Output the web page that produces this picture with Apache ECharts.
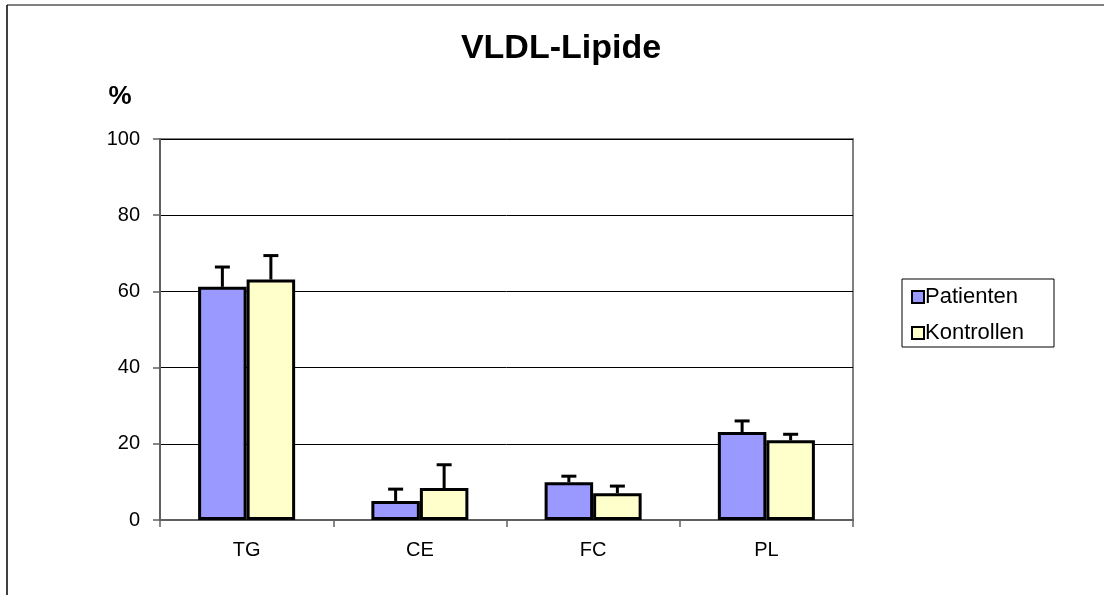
<!DOCTYPE html>
<html>
<head>
<meta charset="utf-8">
<script src="https://cdn.jsdelivr.net/npm/echarts@6/dist/echarts.min.js"></script>
<style>
  html, body { margin: 0; padding: 0; background: #fff; }
  #chart { width: 1104px; height: 595px; }
</style>
</head>
<body>
<div id="chart"></div>
<script>
// Werte
const categories = ['TG', 'CE', 'FC', 'PL'];
const patienten = [61.2, 5.0, 9.9, 23.1];
const patientenErr = [5.2, 3.1, 1.6, 2.9];
const kontrollen = [63.1, 8.4, 7.0, 20.9];
const kontrollenErr = [6.3, 6.1, 1.9, 1.6];
const yTicks = [0, 20, 40, 60, 80, 100];

const FONT = 'Liberation Sans';
const BAR_RATIO = 0.28;

const chart = echarts.init(document.getElementById('chart'));

// obere Fehlerbalken, offset = -1 links, +1 rechts
function errorRenderer(offset) {
	return function (params, api) {
		const cat = api.value(0);
		const top = api.coord([cat, api.value(1) + api.value(2)]);
		const base = api.coord([cat, api.value(1)]);
		const band = api.size([1, 0])[0];
		const x = base[0] + offset * band * BAR_RATIO / 2;
		const cap = 7.5;
		return {
			type: 'group',
			children: [
				{ type: 'line', shape: { x1: x, y1: base[1], x2: x, y2: top[1] }, style: { stroke: '#000', lineWidth: 3 } },
				{ type: 'line', shape: { x1: x - cap, y1: top[1], x2: x + cap, y2: top[1] }, style: { stroke: '#000', lineWidth: 3 } }
			]
		};
	};
}

chart.setOption({
	animation: false,
	textStyle: { fontFamily: FONT },
	title: {
		text: 'VLDL-Lipide',
		left: 556,
		top: 27,
		textAlign: 'center',
		textStyle: { fontFamily: FONT, fontWeight: 'bold', fontSize: 34, color: '#000' }
	},
	graphic: [
		{ type: 'line', shape: { x1: 7, y1: 5, x2: 1104, y2: 5 }, style: { stroke: '#808080', lineWidth: 2 } },
		{ type: 'line', shape: { x1: 7, y1: 5, x2: 7, y2: 595 }, style: { stroke: '#000', lineWidth: 1.5 } },
		{ type: 'rect', shape: { x: 902, y: 279, width: 152, height: 68 }, style: { fill: '#fff', stroke: '#000', lineWidth: 1 }, z: 0 }
	],
	legend: {
		orient: 'vertical',
		left: 911,
		top: 285,
		itemWidth: 12,
		itemHeight: 12,
		itemGap: 12,
		padding: 0,
		icon: 'rect',
		data: ['Patienten', 'Kontrollen'],
		itemStyle: { borderColor: '#000', borderWidth: 2 },
		textStyle: { fontFamily: FONT, fontSize: 22, color: '#000', padding: [0, 0, 0, -4], lineHeight: 24 },
		z: 5
	},
	grid: {
		left: 160,
		right: 251,
		top: 139,
		bottom: 75,
		show: true,
		borderColor: '#808080',
		borderWidth: 2
	},
	xAxis: {
		type: 'category',
		data: categories,
		axisLine: { lineStyle: { color: '#606060', width: 2 } },
		axisTick: { show: true, length: 7, lineStyle: { color: '#606060', width: 1.5 } },
		axisLabel: { color: '#000', fontSize: 20, fontFamily: FONT, margin: 20 }
	},
	yAxis: {
		type: 'value',
		min: yTicks[0],
		max: yTicks[yTicks.length - 1],
		interval: 20,
		name: '%',
		nameLocation: 'end',
		nameGap: 29,
		nameTextStyle: { fontFamily: FONT, fontWeight: 'bold', fontSize: 26, color: '#000', align: 'center', padding: [0, 80, 0, 0] },
		axisLine: { show: true, lineStyle: { color: '#606060', width: 2 } },
		axisTick: { show: true, length: 7, lineStyle: { color: '#606060', width: 1.5 } },
		axisLabel: { color: '#000', fontSize: 20, fontFamily: FONT, margin: 20 },
		splitLine: { lineStyle: { color: '#000', width: 1 } }
	},
	series: [
		{
			name: 'Patienten',
			type: 'bar',
			data: patienten,
			barWidth: (BAR_RATIO * 100) + '%',
			barGap: '0%',
			itemStyle: { color: '#9999FF', borderColor: '#000', borderWidth: 3 }
		},
		{
			name: 'Kontrollen',
			type: 'bar',
			data: kontrollen,
			barWidth: (BAR_RATIO * 100) + '%',
			barGap: '0%',
			itemStyle: { color: '#FFFFCC', borderColor: '#000', borderWidth: 3 }
		},
		{
			type: 'custom',
			renderItem: errorRenderer(-1),
			data: categories.map((c, i) => [i, patienten[i], patientenErr[i]]),
			z: 1
		},
		{
			type: 'custom',
			renderItem: errorRenderer(1),
			data: categories.map((c, i) => [i, kontrollen[i], kontrollenErr[i]]),
			z: 1
		}
	]
});
</script>
</body>
</html>
